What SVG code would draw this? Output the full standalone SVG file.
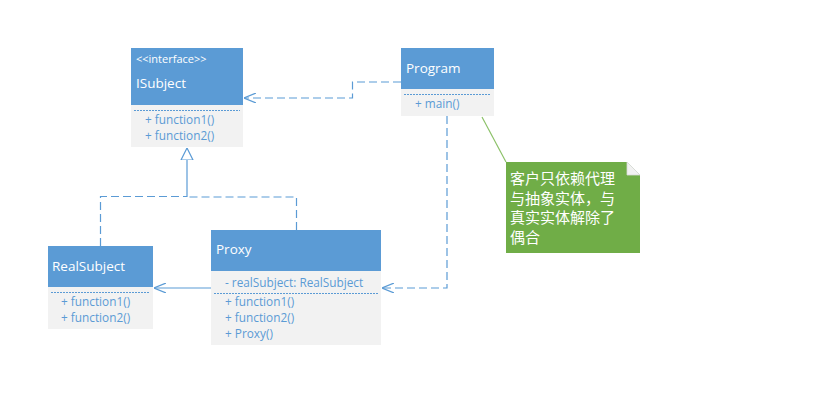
<svg xmlns="http://www.w3.org/2000/svg" width="828" height="407" viewBox="0 0 828 407">
<defs>
<style>
.hd{fill:#5B9BD5}
.bd{fill:#F2F2F2}
.sep{stroke:#5B9BD5;stroke-width:1;stroke-dasharray:2 1}
.tt{font-family:"Open Sans","Liberation Sans",sans-serif;font-size:13.5px;fill:#FFFFFF}
.st{font-family:"Open Sans","Liberation Sans",sans-serif;font-size:11px;fill:#FFFFFF}
.mb{font-family:"Open Sans","Liberation Sans",sans-serif;font-size:11.8px;fill:#5B9BD5}
.dash{fill:none;stroke:#5B9BD5;stroke-width:1.2;stroke-dasharray:8 4}
.sol{fill:none;stroke:#5B9BD5;stroke-width:1.2}
.nt{font-family:"Noto Sans CJK SC",sans-serif;font-size:15px;fill:#FFFFFF}
</style>
<marker id="open" viewBox="0 0 12 10" refX="12" refY="5" markerWidth="12" markerHeight="10" markerUnits="userSpaceOnUse" orient="auto">
<path d="M0,0 L12,5 L0,10" fill="none" stroke="#5B9BD5" stroke-width="1.2"/>
</marker>
<marker id="tri" viewBox="0 0 12 14" refX="12" refY="7" markerWidth="12" markerHeight="14" markerUnits="userSpaceOnUse" orient="auto">
<path d="M0,1 L12,7 L0,13 Z" fill="#FFFFFF" stroke="#5B9BD5" stroke-width="1.2"/>
</marker>
</defs>
<rect width="828" height="407" fill="#FFFFFF"/>
<g id="connectors">
<path class="dash" d="M401,82 H352.5 V98 H244" marker-end="url(#open)"/>
<path class="dash" d="M447,116 V288 H382" marker-end="url(#open)"/>
<path class="dash" d="M100.5,246 V196.5 H187"/>
<path class="dash" d="M296.5,230 V197 H187"/>
<path class="sol" d="M187,197 V148" marker-end="url(#tri)"/>
<path class="sol" d="M211,288 H154" marker-end="url(#open)"/>
<line x1="482" y1="117" x2="506" y2="162" stroke="#8DC26A" stroke-width="1.2"/>
</g>
<g id="ISubject">
<rect class="bd" x="131" y="48" width="112" height="99"/>
<rect class="hd" x="131" y="48" width="112" height="57"/>
<text class="st" x="136" y="63">&lt;&lt;interface&gt;&gt;</text>
<text class="tt" x="136" y="88">ISubject</text>
<line class="sep" x1="134" y1="110.5" x2="240" y2="110.5"/>
<text class="mb" x="145" y="124">+ function1()</text>
<text class="mb" x="145" y="140">+ function2()</text>
</g>
<g id="Program">
<rect class="bd" x="401" y="48" width="93" height="68"/>
<rect class="hd" x="401" y="48" width="93" height="41"/>
<text class="tt" x="406" y="73">Program</text>
<line class="sep" x1="404" y1="94.5" x2="491" y2="94.5"/>
<text class="mb" x="415" y="108">+ main()</text>
</g>
<g id="RealSubject">
<rect class="bd" x="48" y="246" width="105" height="83"/>
<rect class="hd" x="48" y="246" width="105" height="41"/>
<text class="tt" x="52" y="271">RealSubject</text>
<line class="sep" x1="51" y1="292.5" x2="150" y2="292.5"/>
<text class="mb" x="61" y="306">+ function1()</text>
<text class="mb" x="61" y="322">+ function2()</text>
</g>
<g id="Proxy">
<rect class="bd" x="211" y="230" width="170" height="115"/>
<rect class="hd" x="211" y="230" width="170" height="41"/>
<text class="tt" x="216" y="254">Proxy</text>
<text class="mb" x="225" y="287">- realSubject: RealSubject</text>
<line class="sep" x1="214" y1="293.5" x2="378" y2="293.5"/>
<text class="mb" x="225" y="306">+ function1()</text>
<text class="mb" x="225" y="322">+ function2()</text>
<text class="mb" x="225" y="338">+ Proxy()</text>
</g>
<g id="Note">
<path d="M506,162 H627 L640,175 V253 H506 Z" fill="#70AD47"/>
<path d="M627,162 L640,175 L627,175 Z" fill="#F2F2F2" stroke="#D9D9D9" stroke-width="0.8"/>
<text class="nt" x="510" y="184">客户只依赖代理</text>
<text class="nt" x="510" y="203.5">与抽象实体，与</text>
<text class="nt" x="510" y="223">真实实体解除了</text>
<text class="nt" x="510" y="242.5">偶合</text>
</g>
</svg>
